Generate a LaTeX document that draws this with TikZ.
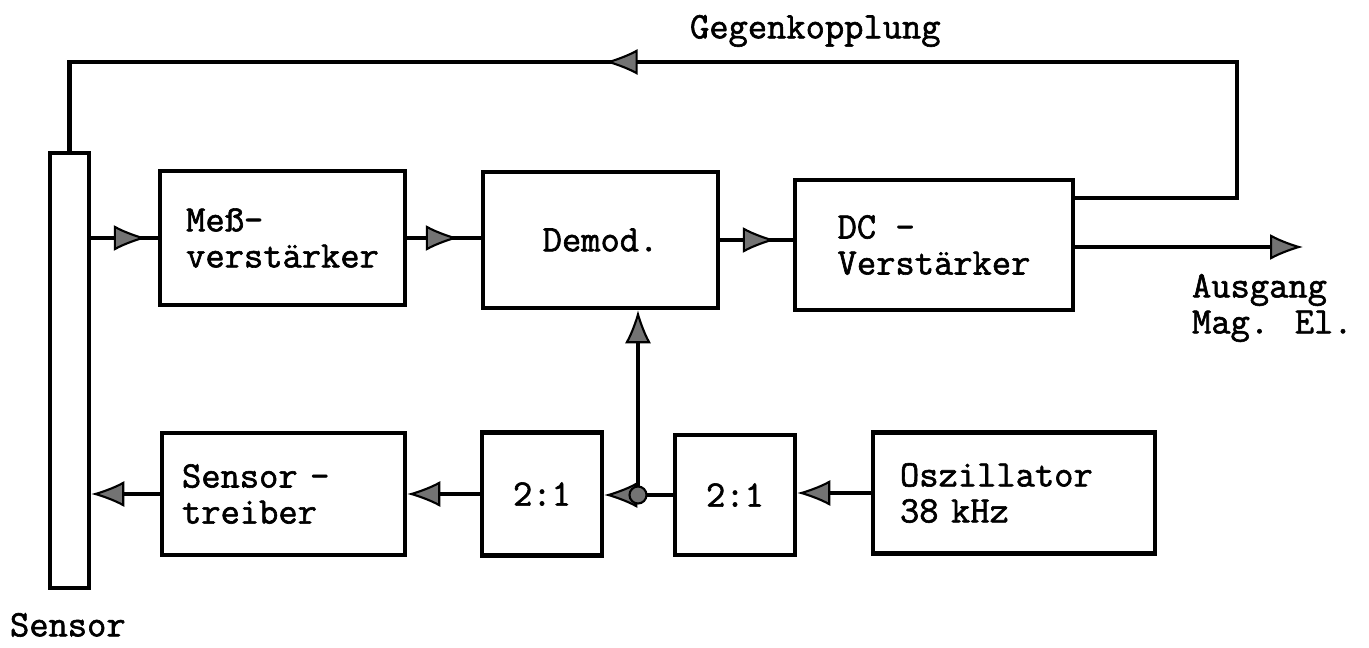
\documentclass[tikz,border=0pt]{standalone}
\usepackage{fontspec}
\usetikzlibrary{arrows.meta,decorations.markings}
\newfontfamily\typefam[RawFeature={embolden=1.6}]{Latin Modern Mono}
\newcommand\typefont{\typefam\fontsize{21.3}{20.5}\selectfont}
\begin{document}
\begin{tikzpicture}[x=0.02cm,y=-0.02cm,line width=2.3pt,
  box/.style={draw,line width=2.6pt,inner sep=0pt,align=left,font=\typefont},
  lbl/.style={inner sep=0pt,align=left,font=\typefont,anchor=north west},
  tip/.style={-{Latex[length=0.66cm,width=0.52cm,fill=black!55,line width=1.2pt]}},
  midtip/.style={postaction={decorate},decoration={markings,
    mark=at position -#1 with {\arrow{Latex[length=0.66cm,width=0.52cm,fill=black!55,line width=1.2pt]}}}}]
  \useasboundingbox (0,0) rectangle (1369,648);
  % sensor bar and blocks
  \node[box,minimum width=0.78cm,minimum height=8.7cm] (bar) at (69.5,370.5) {};
  \node[box,minimum width=4.9cm,minimum height=2.68cm] (mess) at (282.5,238) {Meß-\\verstärker};
  \node[box,minimum width=4.7cm,minimum height=2.72cm] (demod) at (600.5,240) {Demod.};
  \node[box,minimum width=5.56cm,minimum height=2.6cm] (dc) at (934,245) {DC -\\Verstärker};
  \node[box,minimum width=4.86cm,minimum height=2.44cm,text width=4.06cm] (treiber) at (283.5,494) {Sensor -\\treiber};
  \node[box,minimum width=2.4cm,minimum height=2.46cm] (divL) at (542,494) {2:1};
  \node[box,minimum width=2.4cm,minimum height=2.4cm] (divR) at (735,495) {2:1};
  \node[box,minimum width=5.64cm,minimum height=2.42cm,text width=4.56cm] (osz) at (1014,493) {Oszillator\\38 kHz};
  % labels
  \node[lbl] (gegen) at (688,13) {Gegenkopplung};
  \node[lbl] (ausg) at (1190,272) {Ausgang\\Mag. El.};
  \node[lbl] (sens) at (8,611) {Sensor};
  % upper signal path
  \draw[midtip=0.22cm] (bar.east |- mess.west) -- (mess.west);
  \draw[midtip=0.44cm] (mess.east) -- (demod.west |- mess.east);
  \draw[midtip=0.34cm] (demod.east) -- (dc.west |- demod.east);
  \coordinate (out) at (1303,247);
  \draw[tip] (dc.east |- out) -- (out);
  % feedback
  \coordinate (fbR) at (1237,198);
  \coordinate (fbTR) at (1237,62);
  \draw[midtip=12.48cm] (dc.east |- fbR) -- (fbR) -- (fbTR) -- (bar.north |- fbTR) -- (bar.north);
  % lower path
  \coordinate (junc) at (638,495);
  \draw[tip] (osz.west) -- (divR.east |- osz.west);
  \draw (divR.west) -- (junc);
  \draw[tip] (junc) -- (divL.east |- junc);
  \draw[tip] (junc) -- (junc |- demod.south);
  \draw[tip] (divL.west) -- (treiber.east |- divL.west);
  \draw[tip] (treiber.west) -- (bar.east |- treiber.west);
  \filldraw[fill=black!55,line width=1.2pt] (junc) circle (0.17cm);
\end{tikzpicture}
\end{document}
